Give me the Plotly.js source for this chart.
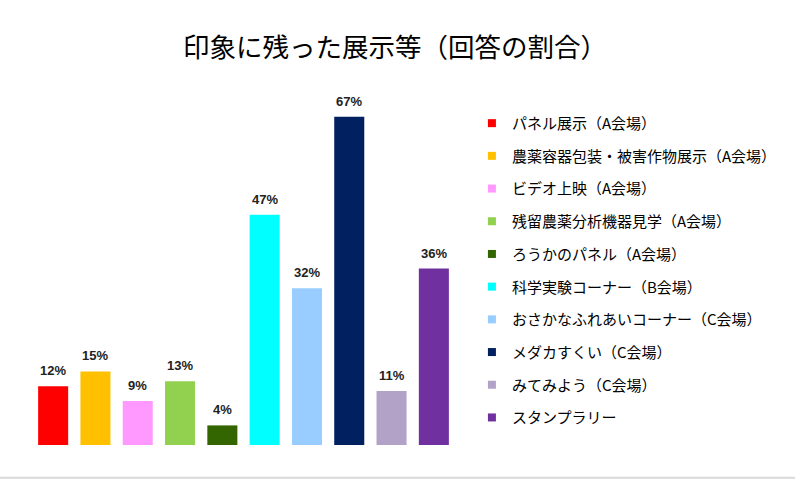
<!DOCTYPE html>
<html><head><meta charset="utf-8">
<script src="https://cdn.plot.ly/plotly-3.0.1.min.js"></script>
<style>html,body{margin:0;padding:0;background:#fff}#chart{width:795px;height:480px}</style>
</head><body><div id="chart"></div>
<script>
const categories = ["パネル展示（A会場）","農薬容器包装・被害作物展示（A会場）","ビデオ上映（A会場）","残留農薬分析機器見学（A会場）","ろうかのパネル（A会場）","科学実験コーナー（B会場）","おさかなふれあいコーナー（C会場）","メダカすくい（C会場）","みてみよう（C会場）","スタンプラリー"];
const values = [12,15,9,13,4,47,32,67,11,36];
const colors = ["#FF0000","#FFC000","#FF99FF","#92D050","#336600","#00FFFF","#99CCFF","#002060","#B3A2C7","#7030A0"];

const bars = categories.map((c,i)=>({
  type:'bar', x:[c], y:[values[i]], name:c, marker:{color:colors[i]},
  showlegend:false, hoverinfo:'skip'
}));
const legendItems = categories.map((c,i)=>({
  type:'scatter', mode:'markers', x:[null], y:[null], name:c,
  marker:{color:colors[i], symbol:'square', size:8}, legendgroup:'g'+i, hoverinfo:'skip'
}));
const annotations = categories.map((c,i)=>({
  x:c, y:values[i], xref:'x', yref:'y', text:values[i]+'%', showarrow:false,
  yanchor:'bottom', yshift:6,
  font:{family:'Liberation Sans, Arial, sans-serif', size:13, color:'#222', weight:'bold'}
}));
const layout = {
  width:795, height:480,
  margin:{l:32, r:340, t:100, b:35},
  paper_bgcolor:'#fff', plot_bgcolor:'#fff',
  title:{text:'印象に残った展示等（回答の割合）', x:0.497, xanchor:'center', y:0.9, yanchor:'middle',
    font:{family:'Noto Sans CJK JP, sans-serif', size:26.5, color:'#000'}},
  barmode:'overlay', bargap:0.29,
  xaxis:{visible:false, categoryorder:'array', categoryarray:categories},
  yaxis:{visible:false, range:[0,70.4]},
  showlegend:true,
  legend:{x:1.04, xanchor:'left', y:0.98, yanchor:'top', tracegroupgap:10.2,
    font:{family:'Noto Sans CJK JP, sans-serif', size:15, color:'#000'}, itemwidth:30},
  annotations:annotations,
  shapes:[{type:'line', xref:'paper', yref:'paper', x0:-0.1, x1:2, y0:-0.095, y1:-0.095, line:{color:'#d9d9d9', width:2}}]
};
Plotly.newPlot('chart', bars.concat(legendItems), layout, {displayModeBar:false, staticPlot:true});
</script></body></html>
